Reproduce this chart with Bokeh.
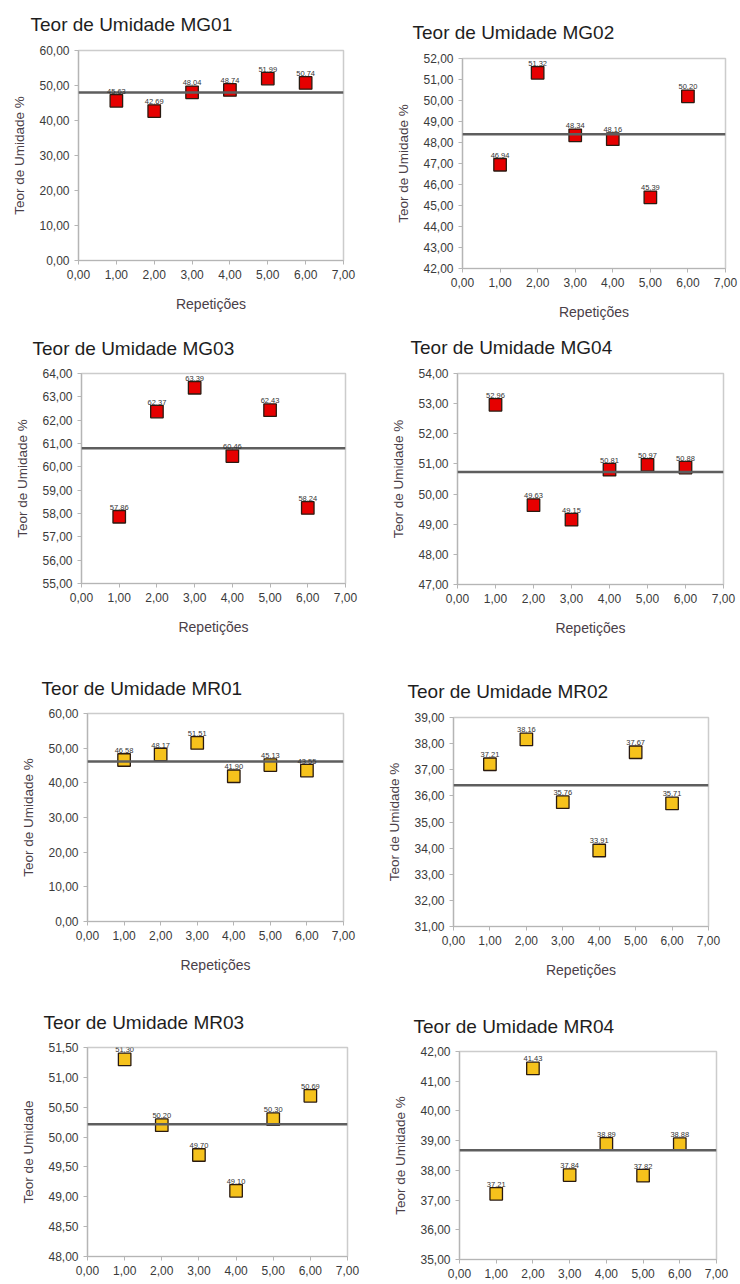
import numpy as np
from bokeh.plotting import figure
from bokeh.layouts import column, row
from bokeh.core.properties import value
from bokeh.models import (Range1d, FixedTicker, CustomJSTickFormatter, Span,
                          ColumnDataSource, LabelSet)
from bokeh.embed import file_html
from bokeh.resources import INLINE

# ---------------- data ----------------
repeticoes = [1, 2, 3, 4, 5, 6]
x_ticks = [0, 1, 2, 3, 4, 5, 6, 7]

mg01 = [45.63, 42.69, 48.04, 48.74, 51.99, 50.74]
mg02 = [46.94, 51.32, 48.34, 48.16, 45.39, 50.20]
mg03 = [57.86, 62.37, 63.39, 60.46, 62.43, 58.24]
mg04 = [52.96, 49.63, 49.15, 50.81, 50.97, 50.88]
mr01 = [46.58, 48.17, 51.51, 41.90, 45.13, 43.55]
mr02 = [37.21, 38.16, 35.76, 33.91, 37.67, 35.71]
mr03 = [51.30, 50.20, 49.70, 49.10, 50.30, 50.69]
mr04 = [37.21, 41.43, 37.84, 38.89, 37.82, 38.88]

titles = ["Teor de Umidade MG01", "Teor de Umidade MG02",
          "Teor de Umidade MG03", "Teor de Umidade MG04",
          "Teor de Umidade MR01", "Teor de Umidade MR02",
          "Teor de Umidade MR03", "Teor de Umidade MR04"]

yticks_mg01 = [0, 10, 20, 30, 40, 50, 60]
yticks_mg02 = [42, 43, 44, 45, 46, 47, 48, 49, 50, 51, 52]
yticks_mg03 = [55, 56, 57, 58, 59, 60, 61, 62, 63, 64]
yticks_mg04 = [47, 48, 49, 50, 51, 52, 53, 54]
yticks_mr01 = [0, 10, 20, 30, 40, 50, 60]
yticks_mr02 = [31, 32, 33, 34, 35, 36, 37, 38, 39]
yticks_mr03 = [48.0, 48.5, 49.0, 49.5, 50.0, 50.5, 51.0, 51.5]
yticks_mr04 = [35, 36, 37, 38, 39, 40, 41, 42]

ylabels = ["Teor de Umidade %"] * 6 + ["Teor de Umidade", "Teor de Umidade %"]
xlabels = ["Repetições"] * 6 + [None, None]

# ---------------- styling ----------------
FONT = "Liberation Sans"
RED = "#e60000"
YELLOW = "#f6c21c"
M = 6  # extra room above each panel (negative top margin)

fmt = CustomJSTickFormatter(code="return tick.toFixed(2).replace('.', ',');")


def panel(title, values, yticks, ylabel, xlabel, fill, w, h, borders, toff, tstand):
    left, right, top, bottom = borders
    p = figure(width=w, height=h + M, output_backend="svg", toolbar_location=None,
               x_range=Range1d(x_ticks[0], x_ticks[-1]),
               y_range=Range1d(yticks[0], yticks[-1]),
               min_border_left=left, min_border_right=right,
               min_border_top=top + M, min_border_bottom=bottom,
               title=title, margin=(-M, 0, 0, 0))
    p.background_fill_color = "white"
    p.border_fill_color = None
    p.outline_line_color = "#cccccc"
    p.outline_line_width = 1.5
    p.xgrid.visible = False
    p.ygrid.visible = False

    p.title.text_font = FONT
    p.title.text_font_size = "19px"
    p.title.text_font_style = "normal"
    p.title.text_color = "#1e1e1e"
    p.title.align = "left"
    p.title.offset = toff
    p.title.standoff = tstand

    for ax, ticks in ((p.xaxis[0], x_ticks), (p.yaxis[0], yticks)):
        ax.ticker = FixedTicker(ticks=ticks)
        ax.formatter = fmt
        ax.axis_line_color = "#b5b5b5"
        ax.axis_line_width = 1.2
        ax.major_tick_line_color = "#b5b5b5"
        ax.major_tick_out = 4
        ax.major_tick_in = 0
        ax.minor_tick_line_color = None
        ax.major_label_text_font = FONT
        ax.major_label_text_font_size = "12px"
        ax.major_label_text_color = "#3a3a3a"
        ax.major_label_standoff = 5
        ax.axis_label_text_font = FONT
        ax.axis_label_text_font_style = "normal"
        ax.axis_label_text_color = "#4a4048"

    p.yaxis.axis_label = ylabel
    p.yaxis.axis_label_text_font_size = "13.5px"
    p.yaxis.axis_label_standoff = 9
    if xlabel:
        p.xaxis.axis_label = xlabel
        p.xaxis.axis_label_text_font_size = "14px"
        p.xaxis.axis_label_standoff = 14

    mean = float(np.mean(values))
    p.add_layout(Span(location=mean, dimension="width", line_color="#5e5e5e",
                      line_width=2.5))

    src = ColumnDataSource(dict(x=repeticoes, y=values,
                                lab=[f"{v:.2f}".replace(".", ",") for v in values]))
    p.scatter("x", "y", source=src, marker="square", size=12.5,
              fill_color=fill, line_color="#2a1a10", line_width=1.3)
    p.add_layout(LabelSet(x="x", y="y", text="lab", source=src,
                          y_offset=7, text_align="center",
                          text_baseline="bottom", text_font=value(FONT),
                          text_font_size="7.5px", text_color="#333333"))
    return p


# layout: (width, height, (left, right, top, bottom), title offset, title standoff)
specs = [
    (370, 322, (78, 27, 50, 62), -48, 32),
    (370, 322, (92, 15, 58, 54), -50, 32),
    (370, 341, (81, 25, 51, 80), -49, 30),
    (370, 341, (87, 17, 51, 79), -47, 32),
    (370, 334, (87, 27, 50, 76), -46, 30),
    (370, 334, (83, 32, 54, 71), -46, 31),
    (370, 287, (87, 23, 50, 28), -44, 30),
    (370, 287, (89, 24, 54, 25), -46, 30),
]
series = [mg01, mg02, mg03, mg04, mr01, mr02, mr03, mr04]
ytks = [yticks_mg01, yticks_mg02, yticks_mg03, yticks_mg04,
        yticks_mr01, yticks_mr02, yticks_mr03, yticks_mr04]
fills = [RED] * 4 + [YELLOW] * 4

plots = []
for i in range(8):
    w, h, b, toff, ts = specs[i]
    plots.append(panel(titles[i], series[i], ytks[i], ylabels[i], xlabels[i],
                       fills[i], w, h, b, toff, ts))

layout = column(row(column(plots[0]), column(plots[1])),
                row(column(plots[2]), column(plots[3])),
                row(column(plots[4]), column(plots[5])),
                row(column(plots[6]), column(plots[7])))

open("out.html", "w").write(file_html(layout, INLINE))
